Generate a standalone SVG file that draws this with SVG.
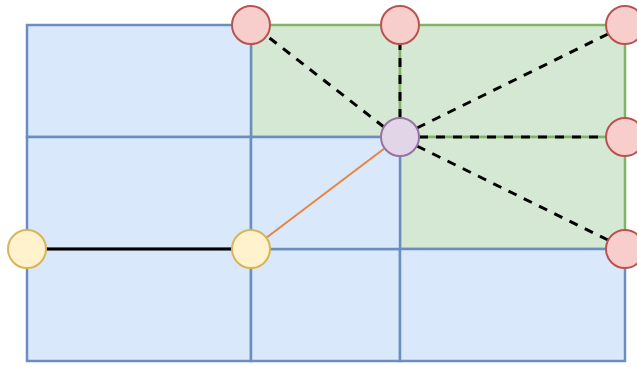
<svg xmlns="http://www.w3.org/2000/svg" width="637" height="367" viewBox="0 0 637 367">
<style>
.blue{fill:#dae8fc;stroke:#6c8ebf;stroke-width:2.5}
.green{fill:#d5e8d4;stroke:#82b366;stroke-width:2.5}
.red{fill:#f8cecc;stroke:#b85450;stroke-width:2}
.purple{fill:#e1d5e7;stroke:#9673a6;stroke-width:2}
.yellow{fill:#fff2cc;stroke:#d6b656;stroke-width:2}
.dash{stroke:#000;stroke-width:3;stroke-dasharray:9 8;fill:none}
</style>
<rect width="637" height="367" fill="#ffffff"/>
<g id="cells">
<rect id="cellG1" class="green" x="251" y="25" width="149" height="112"/>
<rect id="cellG2" class="green" x="400" y="25" width="225" height="112"/>
<rect id="cellG3" class="green" x="400" y="137" width="225" height="112"/>
<rect id="cellA" class="blue" x="27" y="25" width="224" height="112"/>
<rect id="cellB" class="blue" x="27" y="137" width="224" height="112"/>
<rect id="cellC" class="blue" x="27" y="249" width="224" height="112"/>
<rect id="cellE" class="blue" x="251" y="249" width="149" height="112"/>
<rect id="cellF" class="blue" x="400" y="249" width="225" height="112"/>
<rect id="cellD" class="blue" x="251" y="137" width="149" height="112"/>
</g>
<g id="connectors">
<line x1="46" y1="249" x2="232" y2="249" stroke="#000" stroke-width="3"/>
<line x1="266" y1="238" x2="385" y2="148" stroke="#e8843c" stroke-width="2"/>
<path class="dash" d="M384 127 L267 36"/>
<path class="dash" d="M400 118 L400 44"/>
<path class="dash" d="M417 128 L608 34"/>
<path class="dash" d="M419 137 L606 137"/>
<path class="dash" d="M417 146 L608 240"/>
</g>
<g id="n1"><circle class="red" cx="251" cy="25" r="19"/></g>
<g id="n2"><circle class="red" cx="400" cy="25" r="19"/></g>
<g id="n3"><circle class="red" cx="625" cy="25" r="19"/></g>
<g id="n4"><circle class="red" cx="625" cy="137" r="19"/></g>
<g id="n5"><circle class="red" cx="625" cy="249" r="19"/></g>
<g id="center"><circle class="purple" cx="400" cy="137" r="19"/></g>
<g id="y1"><circle class="yellow" cx="27" cy="249" r="19"/></g>
<g id="y2"><circle class="yellow" cx="251" cy="249" r="19"/></g>
</svg>
